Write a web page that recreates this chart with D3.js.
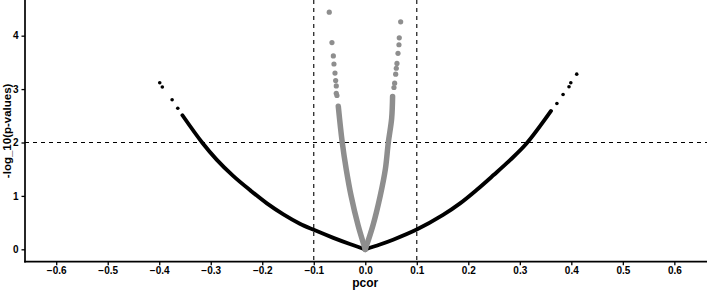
<!DOCTYPE html>
<html>
<head>
<meta charset="utf-8">
<script src="https://cdn.jsdelivr.net/npm/d3@7"></script>
<style>
  body { margin: 0; background: #fff; }
  text { font-family: "Liberation Sans", Arial, sans-serif; font-weight: bold; }
</style>
</head>
<body>
<svg id="chart" width="707" height="290"></svg>
<script>
// ---- data ----
const xTicks = [-0.6, -0.5, -0.4, -0.3, -0.2, -0.1, 0.0, 0.1, 0.2, 0.3, 0.4, 0.5, 0.6];
const yTicks = [0, 1, 2, 3, 4];
const xCutoffs = [-0.1, 0.1];
const yCutoff = 2;

// black series, dense part (left branch and right branch)
const blackLeftPcor = [-0.355, -0.316, -0.2886, -0.256, -0.224, -0.191, -0.159, -0.127, -0.100, -0.062, -0.030, 0];
const blackLeftLogp = [2.51, 1.99, 1.68, 1.37, 1.11, 0.86, 0.655, 0.48, 0.365, 0.215, 0.10, 0];
const blackRightPcor = [0, 0.0285, 0.054, 0.0998, 0.151, 0.184, 0.216, 0.249, 0.281, 0.313, 0.3606];
const blackRightLogp = [0, 0.09, 0.18, 0.37, 0.645, 0.86, 1.11, 1.39, 1.67, 1.98, 2.59];
// black series, isolated points
const blackSparsePcor = [-0.399, -0.394, -0.375, -0.364, 0.372, 0.384, 0.3955, 0.399, 0.4105];
const blackSparseLogp = [3.12, 3.04, 2.80, 2.64, 2.73, 2.90, 3.045, 3.12, 3.28];

// grey series, dense part
const greyLeftPcor = [-0.0524, -0.0447, -0.037, -0.0275, -0.014, 0];
const greyLeftLogp = [2.68, 2.00, 1.50, 1.00, 0.45, 0];
const greyRightPcor = [0, 0.015, 0.029, 0.039, 0.0447, 0.0512, 0.053];
const greyRightLogp = [0, 0.45, 1.00, 1.50, 2.00, 2.45, 2.86];
// grey series, isolated points
const greySparsePcor = [-0.055, -0.0563, -0.0563, -0.0575, -0.0588, -0.0608, -0.062, -0.0647, -0.0699,
                        0.0557, 0.057, 0.059, 0.0602, 0.0615, 0.0635, 0.0654, 0.066, 0.0687];
const greySparseLogp = [2.88, 2.92, 3.06, 3.16, 3.30, 3.47, 3.62, 3.87, 4.44,
                        3.03, 3.11, 3.28, 3.39, 3.48, 3.67, 3.83, 3.96, 4.26];

// ---- drawing ----
(function () {
const svg = d3.select("#chart");
const pL = 25, pR = 707, pT = 0, pB = 261.7;
const x = d3.scaleLinear().domain([-0.6606, 0.6634]).range([pL, pR]);
const y = d3.scaleLinear().domain([-0.232, 4.668]).range([pB, pT]);

const BLACK = "#000000", GREY = "#8E8E8E";
const zip = (a, b) => a.map((v, i) => [v, b[i]]);

// cutoff lines
svg.selectAll(".vcut").data(xCutoffs).enter().append("line")
  .attr("x1", d => x(d)).attr("x2", d => x(d))
  .attr("y1", pT).attr("y2", pB)
  .attr("stroke", "#000").attr("stroke-width", 1.1).attr("stroke-dasharray", "4,4");
svg.append("line")
  .attr("x1", pL).attr("x2", pR).attr("y1", y(yCutoff)).attr("y2", y(yCutoff))
  .attr("stroke", "#000").attr("stroke-width", 1.1).attr("stroke-dasharray", "4,4");

const line = d3.line().x(d => x(d[0])).y(d => y(d[1])).curve(d3.curveCatmullRom);

function branch(px, py, color, w) {
  svg.append("path").datum(zip(px, py))
    .attr("d", line).attr("fill", "none")
    .attr("stroke", color).attr("stroke-width", w)
    .attr("stroke-linecap", "round").attr("stroke-linejoin", "round");
}
function dots(px, py, color, r) {
  svg.append("g").selectAll("circle").data(zip(px, py)).enter().append("circle")
    .attr("cx", d => x(d[0])).attr("cy", d => y(d[1])).attr("r", r).attr("fill", color);
}

// black first, grey on top
branch(blackLeftPcor, blackLeftLogp, BLACK, 3.9);
branch(blackRightPcor, blackRightLogp, BLACK, 3.9);
dots(blackSparsePcor, blackSparseLogp, BLACK, 1.8);

branch(greyLeftPcor, greyLeftLogp, GREY, 5.5);
branch(greyRightPcor, greyRightLogp, GREY, 5.5);
dots(greySparsePcor, greySparseLogp, GREY, 2.6);

// axes
const xAxis = d3.axisBottom(x).tickValues(xTicks).tickSize(3.5).tickPadding(2)
  .tickFormat(d3.format(".1f"));
const gx = svg.append("g").attr("transform", `translate(0,${pB})`).call(xAxis);
gx.select(".domain").remove();
gx.selectAll(".tick line").attr("stroke", "#000").attr("stroke-width", 1.3);
gx.selectAll(".tick text").attr("fill", "#000").style("font-size", "10px");

const yAxis = d3.axisLeft(y).tickValues(yTicks).tickSize(3.5).tickPadding(3)
  .tickFormat(d3.format("d"));
const gy = svg.append("g").attr("transform", `translate(${pL},0)`).call(yAxis);
gy.select(".domain").remove();
gy.selectAll(".tick line").attr("stroke", "#000").attr("stroke-width", 1.3);
gy.selectAll(".tick text").attr("fill", "#000").style("font-size", "10px");

// axis lines
svg.append("line").attr("x1", pL).attr("x2", pL).attr("y1", pT).attr("y2", pB + 0.8)
  .attr("stroke", "#000").attr("stroke-width", 1.7);
svg.append("line").attr("x1", pL - 0.8).attr("x2", pR).attr("y1", pB).attr("y2", pB)
  .attr("stroke", "#000").attr("stroke-width", 1.7);

// axis titles
svg.append("text").attr("x", x(0)).attr("y", 287)
  .attr("text-anchor", "middle").style("font-size", "12px").attr("fill", "#000").text("pcor");
svg.append("text").attr("transform", `translate(10.5,${(pT + pB) / 2}) rotate(-90)`)
  .attr("text-anchor", "middle").style("font-size", "11.5px").attr("fill", "#000")
  .text("-log_10(p-values)");
})();
</script>
</body>
</html>
